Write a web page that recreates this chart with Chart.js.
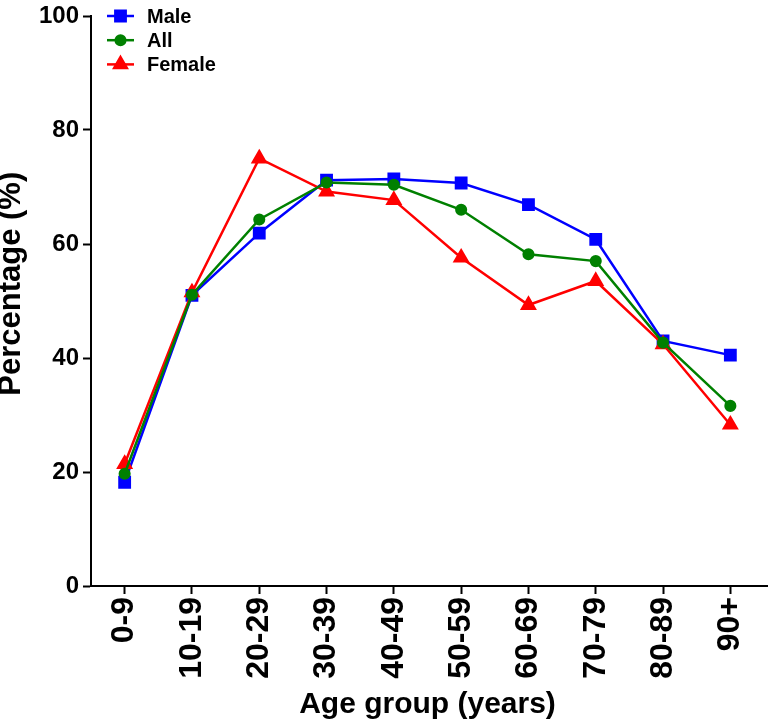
<!DOCTYPE html>
<html>
<head>
<meta charset="utf-8">
<script src="https://cdn.jsdelivr.net/npm/chart.js@4.4.1/dist/chart.umd.min.js"></script>
<style>
  html, body { margin: 0; padding: 0; background: #ffffff; }
  #wrap { width: 768px; height: 721px; position: relative; }
</style>
</head>
<body>
<div id="wrap"><canvas id="c"></canvas></div>
<script>
const categories = ['0-9', '10-19', '20-29', '30-39', '40-49', '50-59', '60-69', '70-79', '80-89', '90+'];
const maleValues = [18.2, 51.0, 61.9, 71.2, 71.4, 70.7, 66.9, 60.8, 43.0, 40.5];
const allValues = [19.7, 51.1, 64.3, 70.8, 70.4, 66.0, 58.2, 57.0, 42.7, 31.6];
const femaleValues = [21.4, 51.5, 75.0, 69.2, 67.7, 57.6, 49.3, 53.5, 42.4, 28.3];
const yTicks = [0, 20, 40, 60, 80, 100];
const seriesNames = ['Male', 'All', 'Female'];
const xTitle = 'Age group (years)';
const yTitle = 'Percentage (%)';

const FONT = "'Liberation Sans', Arial, Helvetica, sans-serif";

const legendPlugin = {
  id: 'insideLegend',
  afterDatasetsDraw(chart) {
    const ctx = chart.ctx;
    const area = chart.chartArea;
    ctx.save();
    chart.data.datasets.forEach((ds, i) => {
      const y = area.top + i * 24.2;
      const x0 = area.left + 16;
      const x1 = area.left + 43;
      ctx.strokeStyle = ds.borderColor;
      ctx.lineWidth = 2.5;
      ctx.beginPath();
      ctx.moveTo(x0, y);
      ctx.lineTo(x1, y);
      ctx.stroke();
      ctx.fillStyle = ds.pointBackgroundColor;
      ctx.strokeStyle = ds.pointBorderColor;
      Chart.helpers.drawPoint(ctx, {
        pointStyle: ds.pointStyle,
        radius: ds.pointRadius,
        rotation: 0,
        borderWidth: 1
      }, (x0 + x1) / 2, y);
      ctx.fillStyle = '#000000';
      ctx.font = "bold 20px " + FONT;
      ctx.textAlign = 'left';
      ctx.textBaseline = 'middle';
      ctx.fillText(ds.label, area.left + 56, y + 1);
    });
    ctx.restore();
  },
  afterDraw(chart) {
    const ctx = chart.ctx;
    const area = chart.chartArea;
    ctx.save();
    ctx.strokeStyle = '#000000';
    ctx.lineWidth = 2;
    ctx.beginPath();
    ctx.moveTo(area.right - 1, area.bottom);
    ctx.lineTo(chart.width, area.bottom);
    ctx.stroke();
    ctx.restore();
  }
};

new Chart(document.getElementById('c'), {
  type: 'line',
  data: {
    labels: categories,
    datasets: [
      {
        label: seriesNames[0],
        data: maleValues,
        borderColor: '#0000ff',
        backgroundColor: '#0000ff',
        pointBackgroundColor: '#0000ff',
        pointBorderColor: '#0000ff',
        pointStyle: 'rect',
        pointRadius: 7.3,
        borderWidth: 2.5,
        tension: 0,
        clip: false,
        order: 2
      },
      {
        label: seriesNames[1],
        data: allValues,
        borderColor: '#008000',
        backgroundColor: '#008000',
        pointBackgroundColor: '#008000',
        pointBorderColor: '#008000',
        pointStyle: 'circle',
        pointRadius: 4.8,
        borderWidth: 2.5,
        tension: 0,
        clip: false,
        order: 0
      },
      {
        label: seriesNames[2],
        data: femaleValues,
        borderColor: '#ff0000',
        backgroundColor: '#ff0000',
        pointBackgroundColor: '#ff0000',
        pointBorderColor: '#ff0000',
        pointStyle: 'triangle',
        pointRadius: 7.3,
        borderWidth: 2.5,
        tension: 0,
        clip: false,
        order: 1
      }
    ]
  },
  options: {
    responsive: true,
    maintainAspectRatio: false,
    animation: false,
    events: [],
    layout: { autoPadding: false, padding: { left: 0, right: 4, top: 13, bottom: 0 } },
    plugins: {
      legend: { display: false },
      tooltip: { enabled: false },
      title: { display: false }
    },
    scales: {
      x: {
        type: 'category',
        offset: true,
        grid: {
          display: true,
          drawOnChartArea: false,
          drawTicks: true,
          tickLength: 8,
          tickWidth: 2,
          tickColor: '#000000',
          offset: false
        },
        border: { display: true, color: '#000000', width: 2 },
        ticks: {
          color: '#000000',
          font: { family: FONT, size: 32, weight: 'bold', lineHeight: 1.0 },
          minRotation: 90,
          maxRotation: 90,
          padding: 3,
          autoSkip: false
        },
        title: {
          display: true,
          text: xTitle,
          color: '#000000',
          font: { family: FONT, size: 30, weight: 'bold', lineHeight: 1.1 },
          padding: { top: 0, bottom: 0 }
        },
        afterFit(scale) {
          scale.height = 135;
          scale.paddingLeft = 0;
          scale.paddingRight = 0;
        }
      },
      y: {
        type: 'linear',
        min: 0,
        max: 100,
        afterBuildTicks(scale) { scale.ticks = yTicks.map(v => ({ value: v })); },
        grid: {
          display: true,
          drawOnChartArea: false,
          drawTicks: true,
          tickLength: 8,
          tickWidth: 2,
          tickColor: '#000000'
        },
        border: { display: true, color: '#000000', width: 2 },
        ticks: {
          color: '#000000',
          font: { family: FONT, size: 24, weight: 'bold', lineHeight: 1.0 },
          padding: 4
        },
        title: {
          display: true,
          text: '    ' + yTitle,
          color: '#000000',
          font: { family: FONT, size: 31, weight: 'bold', lineHeight: 0.72 },
          padding: { top: 0, bottom: 0 }
        },
        afterFit(scale) { scale.width = 91; }
      }
    }
  },
  plugins: [legendPlugin]
});
</script>
</body>
</html>
